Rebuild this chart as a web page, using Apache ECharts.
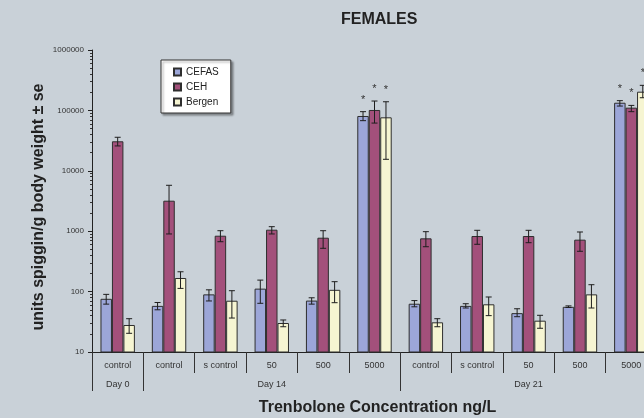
<!DOCTYPE html>
<html>
<head>
<meta charset="utf-8">
<script src="https://cdn.jsdelivr.net/npm/echarts@6/dist/echarts.min.js"></script>
<style>
  html, body { margin: 0; padding: 0; background: #c9d1d8; }
  #chart { width: 644px; height: 418px; }
</style>
</head>
<body>
<div id="chart"></div>
<script>
// Treatment groups along the x axis and the sampling day each belongs to
const categories = ['control', 'control', 's control', '50', '500', '5000',
                    'control', 's control', '50', '500', '5000'];
const dayLabels = ['Day 0', '', '', 'Day 14', '', '', '', '', 'Day 21', '', ''];
const dayBoundaries = [0, 1, 6];

// Mean spiggin (units/g body weight) with lower / upper error limits
const cefas   = [76, 58, 90, 112, 71, 80800, 63, 58, 44, 56, 134000];
const cefasLo = [62, 50, 70, 64, 62, 67600, 56, 53.5, 38.4, 54.6, 118000];
const cefasHi = [90, 66, 107, 155, 79, 95300, 71, 63, 52, 58, 145000];

const ceh   = [30800, 3200, 842, 1059, 780, 101600, 762, 832, 832, 724, 111000];
const cehLo = [25800, 900, 670, 900, 521, 61700, 553, 607, 645, 465, 95300];
const cehHi = [35900, 5755, 1019, 1188, 1019, 143000, 982, 1035, 1035, 970, 121000];

const bergen   = [28, 168, 70.6, 30.2, 107, 76800, 31, 61.6, 33, 90, 204000];
const bergenLo = [20.4, 113, 36.5, 26.2, 65.5, 15500, 26.2, 40, 24.7, 53.5, 162000];
const bergenHi = [35.6, 213, 103.5, 33.9, 146, 139000, 35.6, 81.4, 40.5, 130, 260000];

// Significance markers (1 = significant)
const significant = [0, 0, 0, 0, 0, 1, 0, 0, 0, 0, 1];

const yTickLabels = [10, 100, 1000, 10000, 100000, 1000000];
const yMinorTicks = [];
for (let d = 10; d < 1000000; d *= 10) {
  for (let m = 2; m <= 9; m++) yMinorTicks.push(d * m);
}

const seriesNames = ['CEFAS', 'CEH', 'Bergen'];
const colors = ['#9ca6d8', '#a3507b', '#f6f5d2'];
const means = [cefas, ceh, bergen];
const lows = [cefasLo, cehLo, bergenLo];
const highs = [cefasHi, cehHi, bergenHi];

const CATEGORY_GAP = 0.33;
const FONT = '"Liberation Sans", Arial, sans-serif';

const errorData = [];
for (let s = 0; s < 3; s++) {
  for (let i = 0; i < categories.length; i++) {
    errorData.push([i, lows[s][i], highs[s][i], s, significant[i]]);
  }
}

const chart = echarts.init(document.getElementById('chart'), null, { renderer: 'canvas' });

const barSeries = seriesNames.map((name, s) => ({
  name: name,
  type: 'bar',
  data: means[s],
  barGap: '0%',
  barCategoryGap: (CATEGORY_GAP * 100) + '%',
  itemStyle: { color: colors[s], borderColor: '#2e2e2e', borderWidth: 1 },
  emphasis: { disabled: true },
  clip: true,
  z: 2
}));

const errorSeries = {
  type: 'custom',
  name: 'error',
  data: errorData,
  encode: { x: 0, y: [1, 2] },
  z: 5,
  silent: true,
  clip: false,
  renderItem: function (params, api) {
    const ci = api.value(0);
    const lo = api.value(1);
    const hi = api.value(2);
    const s = api.value(3);
    const star = api.value(4);
    const band = api.coord([1, 10])[0] - api.coord([0, 10])[0];
    const barW = band * (1 - CATEGORY_GAP) / 3;
    const pHi = api.coord([ci, hi]);
    const pLo = api.coord([ci, lo]);
    const x = pHi[0] + (s - 1) * barW;
    const cap = 3;
    const style = { stroke: '#1e1e1e', lineWidth: 1 };
    const children = [
      { type: 'line', shape: { x1: x, y1: pHi[1], x2: x, y2: pLo[1] }, style: style },
      { type: 'line', shape: { x1: x - cap, y1: pHi[1], x2: x + cap, y2: pHi[1] }, style: style },
      { type: 'line', shape: { x1: x - cap, y1: pLo[1], x2: x + cap, y2: pLo[1] }, style: style }
    ];
    if (star) {
      children.push({
        type: 'text',
        style: {
          text: '*', x: x, y: pHi[1] - 12,
          align: 'center', verticalAlign: 'middle',
          font: '11px ' + FONT, fill: '#333'
        }
      });
    }
    return { type: 'group', children: children };
  }
};

const option = {
  backgroundColor: '#c9d1d8',
  animation: false,
  title: {
    text: 'FEMALES',
    left: 336, top: 7,
    textStyle: { fontFamily: FONT, fontSize: 16, fontWeight: 'bold', color: '#222' }
  },
  legend: {
    data: seriesNames,
    orient: 'vertical',
    left: 161, top: 60,
    padding: [7, 12, 6, 12],
    itemWidth: 7, itemHeight: 7, itemGap: 5,
    backgroundColor: '#ffffff',
    borderColor: '#333', borderWidth: 1,
    shadowColor: 'rgba(0,0,0,0.35)', shadowBlur: 2, shadowOffsetX: 2, shadowOffsetY: 2,
    icon: 'rect',
    textStyle: { fontFamily: FONT, fontSize: 10, color: '#222' }
  },
  grid: { left: 92, right: -13, top: 50, bottom: 66, containLabel: false, outerBoundsMode: 'none' },
  xAxis: [
    {
      type: 'category',
      data: categories,
      position: 'bottom',
      axisLine: { show: true, lineStyle: { color: '#222', width: 1 } },
      axisTick: { show: true, length: 21, interval: 0, lineStyle: { color: '#333' } },
      axisLabel: { interval: 0, margin: 9, fontFamily: FONT, fontSize: 9, color: '#333' },
      name: 'Trenbolone Concentration ng/L',
      nameLocation: 'middle',
      nameGap: 48,
      nameMoveOverlap: false,
      nameTextStyle: { fontFamily: FONT, fontSize: 16, fontWeight: 'bold', color: '#222', padding: [0, 0, 0, 6] }
    },
    {
      type: 'category',
      data: dayLabels,
      position: 'bottom',
      gridIndex: 0,
      axisLine: { show: false },
      axisTick: {
        show: true, length: 39,
        interval: function (index) { return dayBoundaries.indexOf(index) >= 0; },
        lineStyle: { color: '#333' }
      },
      axisLabel: { interval: 0, margin: 28, fontFamily: FONT, fontSize: 9, color: '#333' }
    }
  ],
  yAxis: [
    {
      type: 'log',
      logBase: 10,
      min: 10,
      max: 1000000,
      interval: 1,
      axisLine: { show: true, lineStyle: { color: '#222', width: 1 } },
      axisTick: { show: true, inside: false, length: 4, lineStyle: { color: '#222' } },
      splitLine: { show: false },
      axisLabel: {
        margin: 8, fontFamily: FONT, fontSize: 8, color: '#333',
        formatter: function (v) { return String(Math.round(v)); }
      },
      name: 'units spiggin/g body weight \u00b1 se',
      nameLocation: 'middle',
      nameGap: 45,
      nameMoveOverlap: false,
      nameTextStyle: { fontFamily: FONT, fontSize: 16, fontWeight: 'bold', color: '#222', padding: [0, 12, 0, 0] }
    },
    {
      type: 'log',
      logBase: 10,
      min: 10,
      max: 1000000,
      position: 'left',
      offset: 0,
      axisLine: { show: false },
      axisTick: { show: true, inside: false, length: 2, customValues: yMinorTicks, lineStyle: { color: '#333' } },
      axisLabel: { show: false },
      splitLine: { show: false }
    }
  ],
  series: barSeries.concat([errorSeries])
};

chart.setOption(option);
</script>
</body>
</html>
